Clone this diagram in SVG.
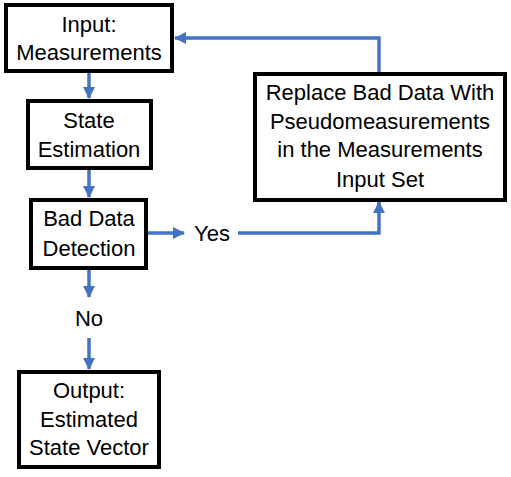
<svg xmlns="http://www.w3.org/2000/svg" width="511" height="477" viewBox="0 0 511 477">
<style>
.box{fill:#fff;stroke:#000;stroke-width:4}
.t{font-family:"Liberation Sans",Arial,sans-serif;font-size:22px;fill:#000;text-anchor:middle}
.c{fill:none;stroke:#4472C4;stroke-width:3.5}
</style>
<defs>
<marker id="ah" markerUnits="userSpaceOnUse" markerWidth="12" markerHeight="12" viewBox="0 0 12 12" refX="11" refY="6" orient="auto">
<path d="M0,0 L12,6 L0,12 z" fill="#4472C4"/>
</marker>
</defs>
<rect width="511" height="477" fill="#fff"/>
<g id="connectors">
<line class="c" x1="89" y1="73" x2="89" y2="98" marker-end="url(#ah)"/>
<line class="c" x1="89" y1="170" x2="89" y2="197" marker-end="url(#ah)"/>
<line class="c" x1="148" y1="233" x2="184" y2="233" marker-end="url(#ah)"/>
<polyline class="c" points="238,233 379,233 379,202" marker-end="url(#ah)"/>
<polyline class="c" points="379,72 379,38 175,38" marker-end="url(#ah)"/>
<line class="c" x1="89" y1="270" x2="89" y2="297" marker-end="url(#ah)"/>
<line class="c" x1="89" y1="338" x2="89" y2="369" marker-end="url(#ah)"/>
<text class="t" x="212" y="241">Yes</text>
<text class="t" x="89" y="326">No</text>
</g>
<g id="input">
<rect class="box" x="6" y="5" width="166" height="66"/>
<text class="t" x="89" y="32">Input:</text>
<text class="t" x="89" y="60">Measurements</text>
</g>
<g id="state-estimation">
<rect class="box" x="28" y="101" width="123" height="67"/>
<text class="t" x="89" y="128">State</text>
<text class="t" x="89" y="157">Estimation</text>
</g>
<g id="bad-data-detection">
<rect class="box" x="31" y="200" width="115" height="68"/>
<text class="t" x="89" y="226">Bad Data</text>
<text class="t" x="89" y="256">Detection</text>
</g>
<g id="output">
<rect class="box" x="19" y="372" width="140" height="95"/>
<text class="t" x="89" y="398">Output:</text>
<text class="t" x="89" y="427">Estimated</text>
<text class="t" x="89" y="455">State Vector</text>
</g>
<g id="replace">
<rect class="box" x="255" y="74" width="250" height="126"/>
<text class="t" x="380" y="100">Replace Bad Data With</text>
<text class="t" x="380" y="129">Pseudomeasurements</text>
<text class="t" x="380" y="157">in the Measurements</text>
<text class="t" x="380" y="187">Input Set</text>
</g>
</svg>
